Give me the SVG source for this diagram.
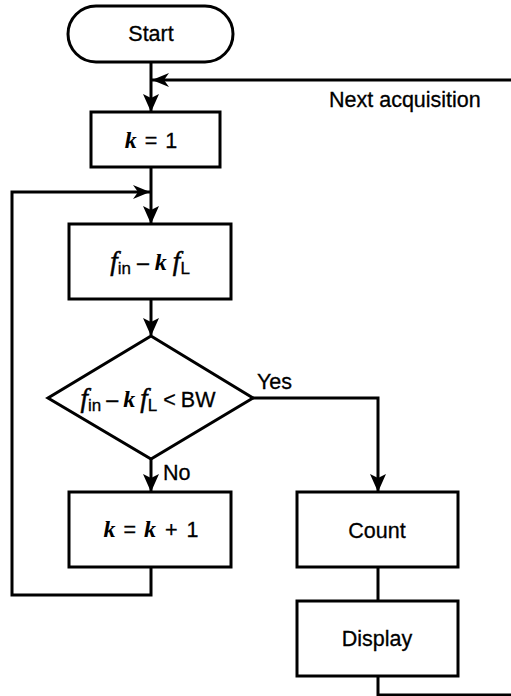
<svg xmlns="http://www.w3.org/2000/svg" width="511" height="696" viewBox="0 0 511 696">
<defs>
<style>
.s{fill:none;stroke:#000;stroke-width:3}
.b{fill:#fff;stroke:#000;stroke-width:3}
.t{font-family:"Liberation Sans",Arial,sans-serif;font-size:21.5px;fill:#000;stroke:#000;stroke-width:0.3}
.m{font-family:"Liberation Serif","Times New Roman",serif;font-style:italic;font-size:27px;fill:#000;stroke:#000;stroke-width:0.5}
.k{font-family:"Liberation Serif","Times New Roman",serif;font-style:italic;font-weight:bold;font-size:24px;fill:#000}
.sub{font-family:"Liberation Sans",Arial,sans-serif;font-size:17px;fill:#000;stroke:#000;stroke-width:0.3}
</style>
</defs>
<rect width="511" height="696" fill="#fff"/>
<g id="connectors">
<path d="M151,62 V111" class="s"/>
<path d="M143,94 L151,112 L159,94 L151,98 z" fill="#000"/>
<path d="M511,80 H152" class="s"/>
<path d="M169,73 L152,80 L169,87 L164,80 z" fill="#000"/>
<path d="M151,167 V223" class="s"/>
<path d="M143,206 L151,224 L159,206 L151,210 z" fill="#000"/>
<path d="M151,567 V595 H12 V192 H150" class="s"/>
<path d="M133,185 L150,192 L133,199 L138,192 z" fill="#000"/>
<path d="M151,299 V335" class="s"/>
<path d="M143,318 L151,336 L159,318 L151,322 z" fill="#000"/>
<path d="M151,459 V491" class="s"/>
<path d="M143,474 L151,492 L159,474 L151,478 z" fill="#000"/>
<path d="M253,398 H378 V491" class="s"/>
<path d="M370,474 L378,492 L386,474 L378,478 z" fill="#000"/>
<path d="M378,567 V601" class="s"/>
<path d="M378,676 V695 H511" class="s"/>
<text class="t" x="329" y="107">Next acquisition</text>
<text class="t" x="257" y="389">Yes</text>
<text class="t" x="163" y="480">No</text>
</g>
<g id="start">
<rect class="b" x="68" y="6" width="165" height="56" rx="28"/>
<text class="t" x="151" y="41" text-anchor="middle">Start</text>
</g>
<g id="k1">
<rect class="b" x="91" y="112" width="129" height="55"/>
<text x="151" y="148" text-anchor="middle"><tspan class="k">k</tspan><tspan class="t" dx="8">=</tspan><tspan class="t" dx="8">1</tspan></text>
</g>
<g id="diff">
<rect class="b" x="69" y="224" width="162" height="75"/>
<text x="150" y="270" text-anchor="middle"><tspan class="m">f</tspan><tspan class="sub" dy="4">in</tspan><tspan class="t" dy="-4" dx="6">–</tspan><tspan class="k" dx="6">k</tspan><tspan class="m" dx="6">f</tspan><tspan class="sub" dy="4">L</tspan></text>
</g>
<g id="decision">
<path class="b" d="M151,336 L253,398 L151,459 L48,398 z"/>
<text x="148" y="407" text-anchor="middle"><tspan class="m">f</tspan><tspan class="sub" dy="4">in</tspan><tspan class="t" dy="-4" dx="5">–</tspan><tspan class="k" dx="5">k</tspan><tspan class="m" dx="5">f</tspan><tspan class="sub" dy="4">L</tspan><tspan class="t" dy="-4" dx="6">&lt;</tspan><tspan class="t" dx="5">BW</tspan></text>
</g>
<g id="kinc">
<rect class="b" x="69" y="492" width="162" height="75"/>
<text x="151" y="537" text-anchor="middle"><tspan class="k">k</tspan><tspan class="t" dx="8">=</tspan><tspan class="k" dx="8">k</tspan><tspan class="t" dx="9">+</tspan><tspan class="t" dx="9">1</tspan></text>
</g>
<g id="count">
<rect class="b" x="297" y="492" width="161" height="75"/>
<text class="t" x="377" y="538" text-anchor="middle">Count</text>
</g>
<g id="display">
<rect class="b" x="297" y="601" width="161" height="75"/>
<text class="t" x="377" y="646" text-anchor="middle">Display</text>
</g>
</svg>
